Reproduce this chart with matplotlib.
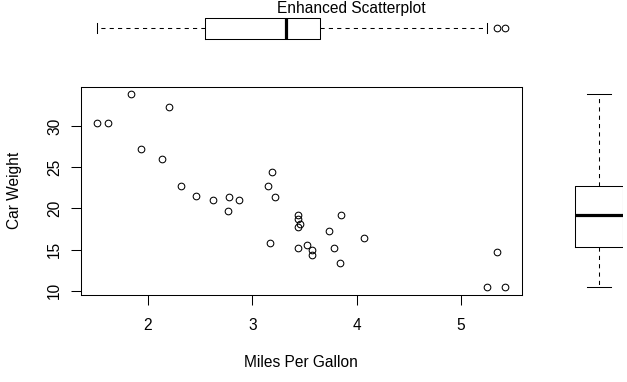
import numpy as np
import matplotlib
matplotlib.use("Agg")
import matplotlib.pyplot as plt

# mtcars: weight (1000 lbs) and miles per gallon
wt = [2.620, 2.875, 2.320, 3.215, 3.440, 3.460, 3.570, 3.190, 3.150, 3.440, 3.440,
      4.070, 3.730, 3.780, 5.250, 5.424, 5.345, 2.200, 1.615, 1.835, 2.465, 3.520,
      3.435, 3.840, 3.845, 1.935, 2.140, 1.513, 3.170, 2.770, 3.570, 2.780]
mpg = [21.0, 21.0, 22.8, 21.4, 18.7, 18.1, 14.3, 24.4, 22.8, 19.2, 17.8,
       16.4, 17.3, 15.2, 10.4, 10.4, 14.7, 32.4, 30.4, 33.9, 21.5, 15.5,
       15.2, 13.3, 19.2, 27.3, 26.0, 30.4, 15.8, 19.7, 15.0, 21.4]

x_ticks = [2, 3, 4, 5]
y_ticks = [10, 15, 20, 25, 30]

title = "Enhanced Scatterplot"
x_label = "Miles Per Gallon"
y_label = "Car Weight"


def box_stats(values):
    # same hinges and whiskers as R's boxplot.stats
    v = np.sort(np.asarray(values, dtype=float))
    n = len(v)
    n4 = np.floor((n + 3) / 2) / 2
    d = np.array([1, n4, (n + 1) / 2, n + 1 - n4, n]) - 1
    q = 0.5 * (v[np.floor(d).astype(int)] + v[np.ceil(d).astype(int)])
    iqr = q[3] - q[1]
    lo = v[v >= q[1] - 1.5 * iqr].min()
    hi = v[v <= q[3] + 1.5 * iqr].max()
    fliers = v[(v < lo) | (v > hi)]
    return {"med": q[2], "q1": q[1], "q3": q[3],
            "whislo": lo, "whishi": hi, "fliers": fliers}


def r_range(values):
    lo, hi = min(values), max(values)
    pad = 0.04 * (hi - lo)
    return lo - pad, hi + pad


plt.rcParams["font.family"] = ["Liberation Sans", "DejaVu Sans"]
plt.rcParams["font.size"] = 11.2

W, H = 627, 382
fig = plt.figure(figsize=(W / 100, H / 100), dpi=100)

lw = 0.75
box_kw = dict(
    showfliers=True,
    boxprops=dict(color="black", linewidth=lw),
    whiskerprops=dict(color="black", linewidth=lw, linestyle=(0, (4, 4))),
    capprops=dict(color="black", linewidth=lw),
    medianprops=dict(color="black", linewidth=2.3, solid_capstyle="butt"),
    flierprops=dict(marker="o", markerfacecolor="none", markeredgecolor="black",
                    markersize=4.8, markeredgewidth=lw),
)

# ---- main scatter

ax = fig.add_axes([80.7 / W, (H - 295) / H, 441 / W, 208.3 / H])
ax.plot(wt, mpg, linestyle="none", marker="o", markerfacecolor="none",
        markeredgecolor="black", markersize=4.8, markeredgewidth=lw)
ax.set_xlim(*r_range(wt))
ax.set_ylim(*r_range(mpg))
ax.set_xticks(x_ticks)
ax.set_yticks(y_ticks)
for s in ax.spines.values():
    s.set_linewidth(lw)
ax.tick_params(direction="out", length=7.2, width=lw, colors="black")
ax.tick_params(axis="x", pad=9.0)
ax.tick_params(axis="y", pad=6.0, labelrotation=90)
for lab in ax.get_yticklabels():
    lab.set_va("center")

ax.set_xlabel(x_label, va="center")
ax.xaxis.set_label_coords(0.499, -0.326)
ax.set_ylabel(y_label, va="center")
ax.yaxis.set_label_coords(-0.149, 0.5)

# ---- top boxplot (x variable)

ax_top = fig.add_axes([80.7 / W, (H - 49) / H, 441 / W, 42 / H])
ax_top.bxp([box_stats(wt)], positions=[0], widths=1, vert=False, **box_kw)
ax_top.set_xlim(*r_range(wt))
ax_top.set_ylim(-1, 1)
ax_top.axis("off")

# ---- right boxplot (y variable)

ax_right = fig.add_axes([551.8 / W, (H - 295) / H, 70.9 / W, 208.3 / H])
ax_right.bxp([box_stats(mpg)], positions=[0], widths=1, **box_kw)
ax_right.set_xlim(-1, 0.5)
ax_right.set_ylim(*r_range(mpg))
ax_right.axis("off")

fig.text(351 / W, 1 - 8.5 / H, title, ha="center", va="center")

fig.savefig("out.png", dpi=100)
